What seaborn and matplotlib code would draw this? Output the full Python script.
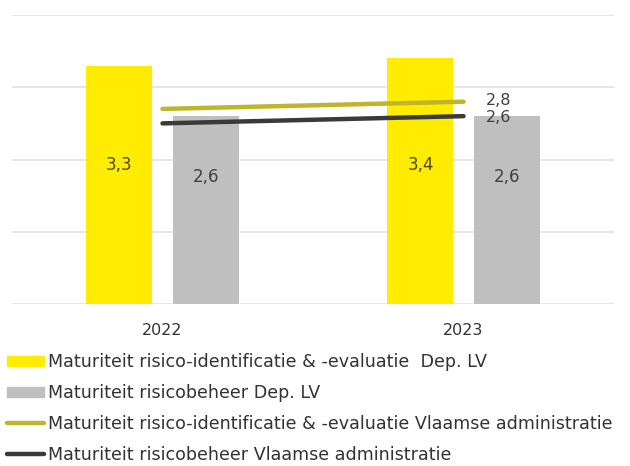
import seaborn as sns
import matplotlib.pyplot as plt
import pandas as pd
from matplotlib.patches import Patch
from matplotlib.lines import Line2D

jaren = ["2022", "2023"]
identificatie_dep = [3.3, 3.4]
beheer_dep = [2.6, 2.6]
identificatie_va = [2.7, 2.8]
beheer_va = [2.5, 2.6]

namen = [
    "Maturiteit risico-identificatie & -evaluatie  Dep. LV",
    "Maturiteit risicobeheer Dep. LV",
    "Maturiteit risico-identificatie & -evaluatie Vlaamse administratie",
    "Maturiteit risicobeheer Vlaamse administratie",
]
kleuren = ["#FFEC00", "#BFBFBF", "#BEB52A", "#3A3A3A"]

sns.set_style("white")
plt.rcParams['font.family'] = ['DejaVu Sans']

bars = pd.DataFrame({
    "jaar": jaren * 2,
    "waarde": identificatie_dep + beheer_dep,
    "reeks": [namen[0]] * 2 + [namen[1]] * 2,
})
lijnen = pd.DataFrame({
    "jaar": jaren * 2,
    "waarde": identificatie_va + beheer_va,
    "reeks": [namen[2]] * 2 + [namen[3]] * 2,
})

fig = plt.figure(figsize=(6.3, 4.66), dpi=100)
ax = fig.add_axes([12 / 630, 1 - 304 / 466, 602 / 630, 289 / 466])

sns.barplot(data=bars, x="jaar", y="waarde", hue="reeks",
            palette=kleuren[:2], width=0.573, gap=0.233, saturation=1,
            linewidth=0, errorbar=None, legend=False, ax=ax)
sns.pointplot(data=lijnen, x="jaar", y="waarde", hue="reeks",
              palette=kleuren[2:], markers="", linewidth=3.2,
              errorbar=None, legend=False, ax=ax)

# labels in de staven
for i, v in enumerate(identificatie_dep):
    ax.text(i - 0.143, 1.92, f"{v:.1f}".replace(".", ","), ha="center", va="center",
            fontsize=12, color="#4d4a10")
for i, v in enumerate(beheer_dep):
    ax.text(i + 0.143, 1.76, f"{v:.1f}".replace(".", ","), ha="center", va="center",
            fontsize=12, color="#404040")

# labels aan het eind van de lijnen
ax.text(1.075, identificatie_va[-1] + 0.02, f"{identificatie_va[-1]:.1f}".replace(".", ","),
        ha="left", va="center", fontsize=11.5, color="#404040")
ax.text(1.075, beheer_va[-1] - 0.02, f"{beheer_va[-1]:.1f}".replace(".", ","),
        ha="left", va="center", fontsize=11.5, color="#404040")

ax.set_xlim(-0.5, 1.5)
ax.set_ylim(0, 4)
ax.set_yticks([0, 1, 2, 3, 4])
ax.set_yticklabels([])
ax.yaxis.grid(True, color="#e2e2e2", linewidth=1.2)
ax.set_axisbelow(True)
ax.tick_params(axis="y", length=0)
ax.tick_params(axis="x", length=0, labelsize=11.5, labelcolor="#333333", pad=14)
ax.set_xlabel("")
ax.set_ylabel("")
sns.despine(ax=ax, left=True, bottom=True)

handles = [
    Patch(color=kleuren[0]),
    Patch(color=kleuren[1]),
    Line2D([], [], color=kleuren[2], linewidth=3.2),
    Line2D([], [], color=kleuren[3], linewidth=3.2),
]
fig.legend(handles, namen, loc="upper left", bbox_to_anchor=(7 / 630, 1 - 353 / 466),
           frameon=False, fontsize=12.6, handlelength=2.1, handleheight=0.5,
           handletextpad=0.25, labelspacing=0.74, borderaxespad=0, borderpad=0,
           labelcolor="#333333")

fig.savefig("out.png", dpi=100)
